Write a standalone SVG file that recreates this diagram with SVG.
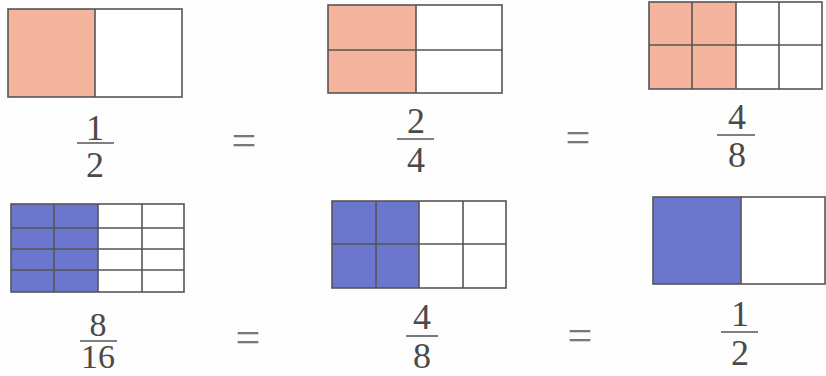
<svg xmlns="http://www.w3.org/2000/svg" width="826" height="376" viewBox="0 0 826 376">
<style>
.bg{fill:#fdfdfd}
.g{stroke:#555;stroke-width:1.6;fill:none}
.o{fill:#f5b49e}
.b{fill:#6a77cc}
.w{fill:#ffffff}
.t{font-family:"Liberation Serif","Times New Roman",serif;font-size:36px;fill:#4a4a4a;text-anchor:middle}
.s{font-size:34px}
.eq{font-family:"Liberation Serif","Times New Roman",serif;font-size:44px;fill:#777;text-anchor:middle}
.bar{stroke:#555;stroke-width:1.6}
</style>
<rect class="bg" x="0" y="0" width="826" height="376"/>

<g id="box1">
<rect class="w" x="8" y="9" width="174" height="88"/>
<rect class="o" x="8" y="9" width="87" height="88"/>
<rect class="g" x="8" y="9" width="174" height="88"/>
<line class="g" x1="95" y1="9" x2="95" y2="97"/>
</g>
<g id="frac1">
<text class="t" x="95" y="140">1</text>
<line class="bar" x1="77" y1="143" x2="114" y2="143"/>
<text class="t" x="95" y="177">2</text>
</g>

<g id="box2">
<rect class="w" x="328" y="5" width="174" height="88"/>
<rect class="o" x="328" y="5" width="88" height="88"/>
<rect class="g" x="328" y="5" width="174" height="88"/>
<line class="g" x1="416" y1="5" x2="416" y2="93"/>
<line class="g" x1="328" y1="50" x2="502" y2="50"/>
</g>
<g id="frac2">
<text class="t" x="416" y="133">2</text>
<line class="bar" x1="397" y1="139" x2="434" y2="139"/>
<text class="t" x="416" y="172">4</text>
</g>

<g id="box3">
<rect class="w" x="649" y="2" width="173" height="87"/>
<rect class="o" x="649" y="2" width="87" height="87"/>
<rect class="g" x="649" y="2" width="173" height="87"/>
<line class="g" x1="692" y1="2" x2="692" y2="89"/>
<line class="g" x1="736" y1="2" x2="736" y2="89"/>
<line class="g" x1="779" y1="2" x2="779" y2="89"/>
<line class="g" x1="649" y1="45" x2="822" y2="45"/>
</g>
<g id="frac3">
<text class="t" x="737" y="129">4</text>
<line class="bar" x1="717" y1="135" x2="755" y2="135"/>
<text class="t" x="737" y="167">8</text>
</g>

<g id="box4">
<rect class="w" x="11" y="204" width="173" height="88"/>
<rect class="b" x="11" y="204" width="87" height="88"/>
<rect class="g" x="11" y="204" width="173" height="88"/>
<line class="g" x1="54" y1="204" x2="54" y2="292"/>
<line class="g" x1="98" y1="204" x2="98" y2="292"/>
<line class="g" x1="142" y1="204" x2="142" y2="292"/>
<line class="g" x1="11" y1="228" x2="184" y2="228"/>
<line class="g" x1="11" y1="249" x2="184" y2="249"/>
<line class="g" x1="11" y1="270" x2="184" y2="270"/>
</g>
<g id="frac4">
<text class="t s" x="98" y="336">8</text>
<line class="bar" x1="80" y1="341" x2="117" y2="341"/>
<text class="t s" x="98" y="368">16</text>
</g>

<g id="box5">
<rect class="w" x="332" y="201" width="174" height="87"/>
<rect class="b" x="332" y="201" width="87" height="87"/>
<rect class="g" x="332" y="201" width="174" height="87"/>
<line class="g" x1="376" y1="201" x2="376" y2="288"/>
<line class="g" x1="419" y1="201" x2="419" y2="288"/>
<line class="g" x1="463" y1="201" x2="463" y2="288"/>
<line class="g" x1="332" y1="244" x2="506" y2="244"/>
</g>
<g id="frac5">
<text class="t" x="422" y="329">4</text>
<line class="bar" x1="406" y1="336" x2="438" y2="336"/>
<text class="t" x="422" y="368">8</text>
</g>

<g id="box6">
<rect class="w" x="653" y="197" width="172" height="87"/>
<rect class="b" x="653" y="197" width="88" height="87"/>
<rect class="g" x="653" y="197" width="172" height="87"/>
<line class="g" x1="741" y1="197" x2="741" y2="284"/>
</g>
<g id="frac6">
<text class="t" x="740" y="326">1</text>
<line class="bar" x1="721" y1="332" x2="758" y2="332"/>
<text class="t" x="740" y="365">2</text>
</g>

<g id="equals">
<text class="eq" x="244" y="155">=</text>
<text class="eq" x="578" y="152">=</text>
<text class="eq" x="248" y="352">=</text>
<text class="eq" x="580" y="350">=</text>
</g>
<g id="connectors"></g>
</svg>
